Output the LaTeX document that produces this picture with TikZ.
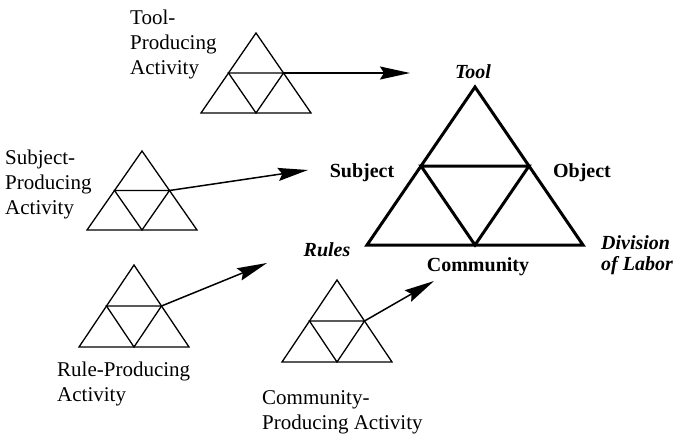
\documentclass[tikz,border=0pt]{standalone}
\usepackage{fontspec}
\setmainfont{Liberation Serif}
\usetikzlibrary{arrows.meta}

% triangle with its inner triangle: [style]{name}{base centre}{half width}{height}
\newcommand{\activitytri}[5][small]{%
  \path #3 coordinate (#2-b)
    +(-#4,0) coordinate (#2-bl) +(#4,0) coordinate (#2-br)
    +(0,-#5) coordinate (#2-t)
    +(-#4/2,-#5/2) coordinate (#2-ml) +(#4/2,-#5/2) coordinate (#2-mr);
  \draw[#1] (#2-bl) -- (#2-br) -- (#2-t) -- cycle;
  \draw[#1] (#2-ml) -- (#2-mr) -- (#2-b) -- cycle;
}

\begin{document}
\begin{tikzpicture}[x=1pt, y=-1pt,
    small/.style={line width=1.3pt},
    main/.style={line width=3pt},
    feed/.style={line width=1.5pt, -{Stealth[length=30pt, width=13pt, inset=4pt]}},
    lbl/.style={align=left, anchor=north west, inner sep=0pt, font=\fontsize{21}{25}\selectfont},
    corner/.style={inner sep=0pt, font=\fontsize{20}{21}\selectfont\bfseries}]
    \useasboundingbox (0,0) rectangle (679,434);
    % Producing activities
    \activitytri{tool}{(256,113)}{55}{80}
    \activitytri{subject}{(142,230)}{55}{79}
    \activitytri{rule}{(134,347)}{55}{82}
    \activitytri{community}{(337,362)}{55}{82}
    % Central activity system
    \activitytri[main]{sys}{(475,245)}{108}{158}
    % Labels of the activities
    \node[lbl] (toollbl) at (130,10) {Tool-\\Producing\\Activity};
    \node[lbl] (subjectlbl) at (5,150) {Subject-\\Producing\\Activity};
    \node[lbl] (rulelbl) at (57,362) {Rule-Producing\\Activity};
    \node[lbl] (communitylbl) at (262,390) {Community-\\Producing Activity};
    % Corners of the system
    \node[corner, font=\fontsize{20}{21}\selectfont\bfseries\itshape] (tool) at (473,72) {Tool};
    \node[corner] (subject) at (362,173) {Subject};
    \node[corner] (object) at (582,173) {Object};
    \node[corner, font=\fontsize{20}{21}\selectfont\bfseries\itshape] (rules) at (327,250) {Rules};
    \node[corner] (community) at (478,267) {Community};
    \node[corner, align=left, anchor=west, font=\fontsize{20}{21}\selectfont\bfseries\itshape] (labor) at (601,255) {Division\\of Labor};
    % Arrows into the system
    \coordinate (toolend) at (410,73);
    \coordinate (subjectend) at (308,170);
    \coordinate (ruleend) at (267,263);
    \coordinate (communityend) at (434,281);
    \draw[feed] (tool-mr) -- (toolend);
    \draw[feed] (subject-mr) -- (subjectend);
    \draw[feed] (rule-mr) -- (ruleend);
    \draw[feed] (community-mr) -- (communityend);
\end{tikzpicture}
\end{document}
